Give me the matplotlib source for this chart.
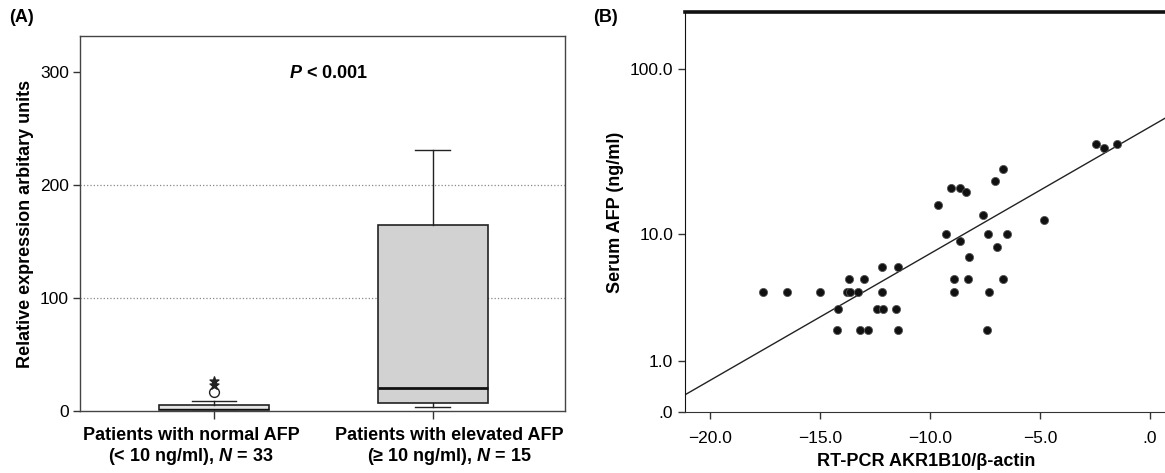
import numpy as np
import matplotlib
matplotlib.use("Agg")
import matplotlib.pyplot as plt

plt.rcParams['font.family'] = ['Liberation Sans', 'DejaVu Sans']
plt.rcParams['mathtext.fontset'] = 'custom'
plt.rcParams['mathtext.it'] = 'Liberation Sans:bold:italic'
plt.rcParams['mathtext.rm'] = 'Liberation Sans:bold'
plt.rcParams['mathtext.bf'] = 'Liberation Sans:bold'

# ---------------- Panel A data (box plot) ----------------
group_labels = ["Patients with normal AFP\n(< 10 ng/ml), $N$ = 33",
                "Patients with elevated AFP\n(\u2265 10 ng/ml), $N$ = 15"]
q1_vals = [0.5, 7.5]
median_vals = [2.0, 20.0]
q3_vals = [5.5, 165.0]
whisker_low = [0.0, 3.5]
whisker_high = [9.0, 231.0]
outlier_circle = [17.0]          # group 1 outliers (circle)
outlier_star = [23.0, 26.5]      # group 1 extremes (star)

# ---------------- Panel B data (scatter) ----------------
rt_pcr = [-17.6, -16.5, -15.0, -13.76, -13.63, -13.27, -12.2,
          -13.68, -12.99, -14.17, -12.39, -12.12, -11.53,
          -14.24, -13.19, -12.82, -11.44, -12.2, -11.44,
          -9.66, -9.07, -8.66, -8.35, -9.29, -8.66, -7.59, -7.37,
          -7.05, -6.69, -6.95, -6.52, -8.22, -8.91, -8.26, -6.69,
          -8.91, -7.30, -7.42, -4.81, -2.45, -2.08, -1.50]
serum_afp = [4.0, 4.0, 4.0, 4.0, 4.0, 4.0, 4.0,
             5.0, 5.0, 3.0, 3.0, 3.0, 3.0,
             2.0, 2.0, 2.0, 2.0, 6.0, 6.0,
             15.3, 19.4, 19.4, 18.2, 10.0, 9.0, 13.2, 10.0,
             21.3, 25.5, 8.2, 10.0, 7.1, 5.0, 5.0, 5.0,
             4.0, 4.0, 2.0, 12.2, 35.9, 33.8, 35.9]
# regression line in log10(AFP + 1) space
fit_intercept = 1.667
fit_slope = 0.0741

b_yticks = [0.0, 1.0, 10.0, 100.0]
b_yticklabels = [".0", "1.0", "10.0", "100.0"]
b_xticks = [-20, -15, -10, -5, 0]
b_xticklabels = ["\u221220.0", "\u221215.0", "\u221210.0", "\u22125.0", ".0"]

W, H = 1165, 473
fig = plt.figure(figsize=(W / 100, H / 100), dpi=100)

def frac(l, t, r, b):
    return [l / W, 1 - b / H, (r - l) / W, (b - t) / H]

LBL = 13
TCK = 12.5

# ================= Panel A =================
axA = fig.add_axes(frac(80, 36, 565, 411))
stats = []
for i in range(2):
    stats.append(dict(med=median_vals[i], q1=q1_vals[i], q3=q3_vals[i],
                      whislo=whisker_low[i], whishi=whisker_high[i], fliers=[]))
positions = [1, 2]
bp = axA.bxp(stats, positions=positions, widths=0.5, patch_artist=True,
             showfliers=False, capwidths=[0.2, 0.16],
             boxprops=dict(facecolor='#d2d2d2', edgecolor='#222222', linewidth=1.2),
             medianprops=dict(color='#111111', linewidth=2.0),
             whiskerprops=dict(color='#222222', linewidth=1.0),
             capprops=dict(color='#222222', linewidth=1.0))
bp['boxes'][0].set_facecolor('#e6e6e6')
bp['medians'][0].set_linewidth(1.0)

axA.scatter([positions[0]] * len(outlier_circle), outlier_circle, s=50,
            facecolors='white', edgecolors='#222222', linewidths=1.0, zorder=5)
axA.scatter([positions[0]] * len(outlier_star), outlier_star, s=45,
            marker='*', color='#222222', zorder=5)

axA.set_xlim(0.388, 2.603)
axA.set_ylim(0, 332)
axA.set_yticks([0, 100, 200, 300])
axA.set_yticklabels(["0", "100", "200", "300"], fontsize=TCK)
for gy in [100, 200]:
    axA.axhline(gy, color='#888888', linestyle=':', linewidth=0.9, zorder=0)
axA.set_xticks(positions)
axA.set_xticklabels(["", ""])
label_shifts_px = [-23, 16]
for pos, lab, dx in zip(positions, group_labels, label_shifts_px):
    axA.annotate(lab, xy=(pos, 0), xycoords=('data', 'axes fraction'),
                 xytext=(dx, -16), textcoords='offset pixels',
                 ha='center', va='top', fontsize=LBL, fontweight='bold',
                 linespacing=1.15, annotation_clip=False)
axA.tick_params(axis='x', length=6, width=1, color='#333333')
axA.tick_params(axis='y', length=5, width=1, pad=3, color='#333333')
for sp in axA.spines.values():
    sp.set_color('#444444')
    sp.set_linewidth(1.0)
axA.set_ylabel("Relative expression arbitary units", fontsize=LBL, fontweight='bold', labelpad=4)
fig.text(329 / W, 1 - 73 / H, "$P$ < 0.001", fontsize=LBL, fontweight='bold',
         ha='center', va='center')
fig.text(9 / W, 1 - 17 / H, "(A)", fontsize=LBL, fontweight='bold', ha='left', va='center')

# ================= Panel B =================
axB = fig.add_axes(frac(685, 12, 1167, 412))
fwd = lambda y: np.log10(np.clip(y, -0.999, None) + 1)
inv = lambda u: 10 ** u - 1
axB.set_yscale('function', functions=(fwd, inv))
axB.scatter(rt_pcr, serum_afp, s=34, color='#111111', edgecolors='#555555',
            linewidths=0.6, zorder=3)
xlim = (-21.14, 0.77)
xx = np.linspace(xlim[0], xlim[1], 50)
axB.plot(xx, inv(fit_intercept + fit_slope * xx), color='#222222', linewidth=1.0, zorder=2)
axB.set_xlim(*xlim)
axB.set_ylim(0, 217)
axB.set_yticks(b_yticks)
axB.set_yticklabels(b_yticklabels, fontsize=TCK)
axB.minorticks_off()
axB.set_xticks(b_xticks)
axB.set_xticklabels(b_xticklabels, fontsize=TCK)
axB.tick_params(axis='both', length=5, width=1, color='#333333')
axB.tick_params(axis='x', pad=9)
axB.spines['right'].set_visible(False)
axB.spines['top'].set_linewidth(2.6)
axB.spines['top'].set_color('#111111')
axB.spines['left'].set_color('#111111')
axB.spines['bottom'].set_color('#333333')
axB.set_ylabel("Serum AFP (ng/ml)", fontsize=LBL, fontweight='bold', labelpad=4)
axB.set_xlabel("RT-PCR AKR1B10/\u03b2-actin", fontsize=LBL, fontweight='bold', labelpad=5)
fig.text(593 / W, 1 - 17 / H, "(B)", fontsize=LBL, fontweight='bold', ha='left', va='center')

fig.savefig("out.png", dpi=100)
